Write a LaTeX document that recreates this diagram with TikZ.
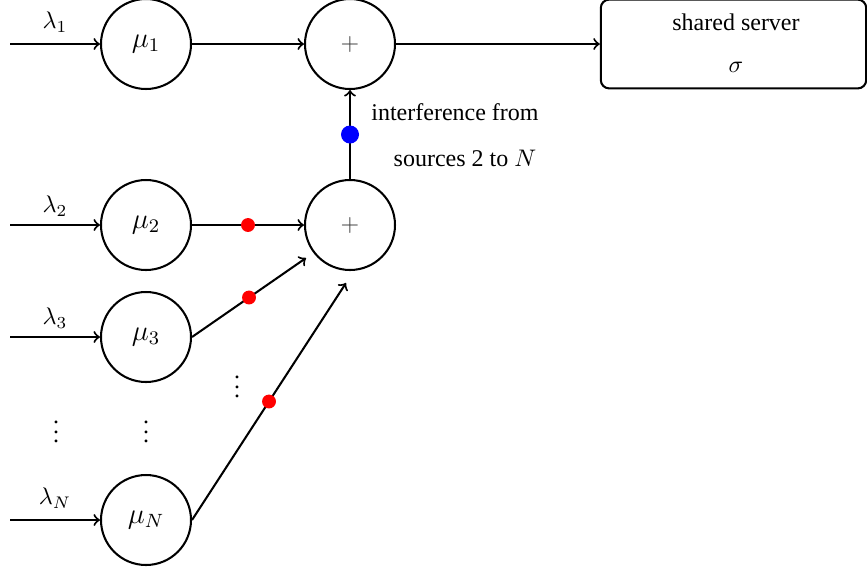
\documentclass[tikz,border=0pt]{standalone}
\usepackage{fontspec}
\setmainfont{Liberation Serif}
\begin{document}
\begin{tikzpicture}[x=0.4167pt,y=-0.4167pt,
  srv/.style={circle,draw,line width=0.85pt,minimum size=37.5pt,inner sep=0pt},
  conn/.style={->,line width=0.85pt},
  reddot/.style={circle,fill=red,inner sep=0pt,minimum size=5.8pt},
  bluedot/.style={circle,fill=blue,inner sep=0pt,minimum size=7.5pt},
  lbl/.style={inner sep=0pt}]
\useasboundingbox (0,0) rectangle (867,571);
% queues
\node[srv,font=\large] (m1) at (146,44) {$\mu_1$};
\node[srv,font=\large] (m2) at (146,225) {$\mu_2$};
\node[srv,font=\large] (m3) at (146,337) {$\mu_3$};
\node[srv,font=\large] (mN) at (146,520) {$\mu_N$};
\node[srv,text=black!75] (p1) at (350,44) {$+$};
\node[srv,text=black!75] (p2) at (350,225) {$+$};
\node[draw,line width=0.85pt,rounded corners=3.5pt,minimum width=110.6pt,minimum height=37pt] (box) at (733.5,44) {};
\node[lbl] (t1) at (736,22) {shared server};
\node[lbl] (t2) at (736,67) {$\sigma$};
% inputs
\coordinate (i1) at (10,44);
\coordinate (i2) at (10,225);
\coordinate (i3) at (10,337);
\coordinate (iN) at (10,520);
\draw[conn] (i1) -- (m1);
\draw[conn] (i2) -- (m2);
\draw[conn] (i3) -- (m3);
\draw[conn] (iN) -- (mN);
\node[lbl] (l1) at (55,22) {$\lambda_1$};
\node[lbl] (l2) at (55,206) {$\lambda_2$};
\node[lbl] (l3) at (55,318) {$\lambda_3$};
\node[lbl] (lN) at (55,498) {$\lambda_N$};
% main path
\draw[conn] (m1) -- (p1);
\draw[conn] (p1) -- (box);
% interference
\draw[conn] (p2) -- (p1) node[midway,bluedot] (bd) {};
\node[lbl] (if1) at (455,112) {interference from};
\node[lbl] (if2) at (465,158) {sources 2 to $N$};
\draw[conn] (m2) -- (p2) node[midway,reddot] (r2) {};
\coordinate (e3) at (306,258);
\coordinate (eN) at (346,283);
\draw[conn] (m3.east) -- (e3) node[midway,reddot] (r3) {};
\draw[conn] (mN.east) -- (eN) node[midway,reddot] (rN) {};
% dots
\node[lbl] (d1) at (237,380) {$\vdots$};
\node[lbl] (d2) at (56,425) {$\vdots$};
\node[lbl] (d3) at (146,425) {$\vdots$};
\end{tikzpicture}
\end{document}
